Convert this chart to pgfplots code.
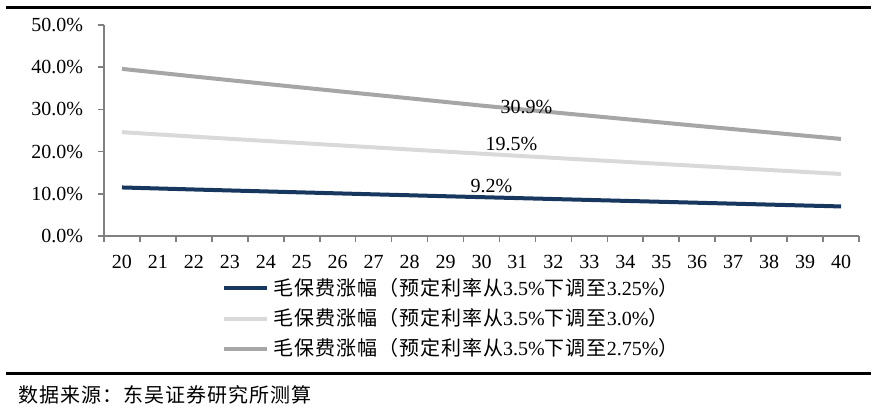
\documentclass[border=0pt]{standalone}
\usepackage{fontspec}
\setmainfont{Liberation Serif}
\newfontfamily\cjk[LetterSpace=5]{Noto Sans CJK SC}
\usepackage{pgfplots}
\pgfplotsset{compat=1.18}

\definecolor{navy}{HTML}{17375E}
\definecolor{lgrey}{HTML}{D9D9D9}
\definecolor{mgrey}{HTML}{A6A6A6}
\definecolor{axgrey}{HTML}{808080}

\newcommand{\legtext}[1]{{\cjk 毛保费涨幅（预定利率从}3.5\%{\cjk 下调至}#1\%{\cjk ）}}

\pgfplotstableread{
age a b c
20 11.50 24.60 39.60
21 11.26 24.07 38.70
22 11.02 23.55 37.80
23 10.79 23.03 36.92
24 10.56 22.52 36.05
25 10.33 22.01 35.18
26 10.10 21.50 34.32
27  9.87 21.00 33.47
28  9.65 20.50 32.62
29  9.42 20.00 31.76
30  9.20 19.50 30.90
31  8.98 19.01 30.10
32  8.76 18.52 29.30
33  8.54 18.04 28.50
34  8.32 17.56 27.70
35  8.10 17.08 26.90
36  7.88 16.60 26.10
37  7.66 16.12 25.32
38  7.44 15.64 24.54
39  7.22 15.17 23.77
40  7.00 14.70 23.00
}\data

\begin{document}
\begin{tikzpicture}
\useasboundingbox (0,0) rectangle (445pt,205pt);
\draw[line width=1.5pt] (3pt,201pt) -- (435.5pt,201pt);
\draw[line width=1.5pt] (3pt,18pt) -- (435.5pt,18pt);
\node[anchor=west,inner sep=0pt,font=\cjk\fontsize{10pt}{12pt}\selectfont] at (9pt,7.5pt) {数据来源：东吴证券研究所测算};

\begin{axis}[
  at={(52pt,87pt)}, anchor=south west,
  scale only axis, width=377.5pt, height=105.5pt,
  xmin=19.5, xmax=40.5, ymin=0, ymax=50,
  axis lines*=left,
  axis line style={axgrey, line width=0.8pt},
  tick style={axgrey, line width=0.8pt},
  tick align=outside,
  major tick length=3pt,
  xtick={19.5,20.5,...,40.5}, xticklabels={},
  extra x ticks={20,...,40},
  extra x tick style={major tick length=0pt},
  extra x tick labels={20,21,22,23,24,25,26,27,28,29,30,31,32,33,34,35,36,37,38,39,40},
  xticklabel style={yshift=-6pt},
  ytick={0,10,...,50},
  yticklabels={0.0\%,10.0\%,20.0\%,30.0\%,40.0\%,50.0\%},
  yticklabel style={xshift=-4pt},
  tick label style={font=\fontsize{10pt}{12pt}\selectfont},
  /pgf/number format/assume math mode=true,
  legend style={draw=none, at={(0.156,-0.18)}, anchor=north west,
    inner sep=0pt, row sep=1pt,
    font=\fontsize{10pt}{12pt}\selectfont,
    /tikz/every even column/.append style={column sep=0pt}},
  legend cell align=left,
  legend image code/.code={\draw[#1] (0pt,0pt) -- (21.5pt,0pt);},
  clip=false,
]
\addplot[navy, line width=2pt] table[x=age, y=a] {\data};
\addlegendentry{\legtext{3.25}}
\addplot[lgrey, line width=2pt] table[x=age, y=b] {\data};
\addlegendentry{\legtext{3.0}}
\addplot[mgrey, line width=2pt] table[x=age, y=c] {\data};
\addlegendentry{\legtext{2.75}}
\node[font=\fontsize{10pt}{12pt}\selectfont] at (axis cs:31.25,30.6) {30.9\%};
\node[font=\fontsize{10pt}{12pt}\selectfont] at (axis cs:30.83,21.8) {19.5\%};
\node[font=\fontsize{10pt}{12pt}\selectfont] at (axis cs:30.28,11.85) {9.2\%};
\end{axis}
\end{tikzpicture}
\end{document}
